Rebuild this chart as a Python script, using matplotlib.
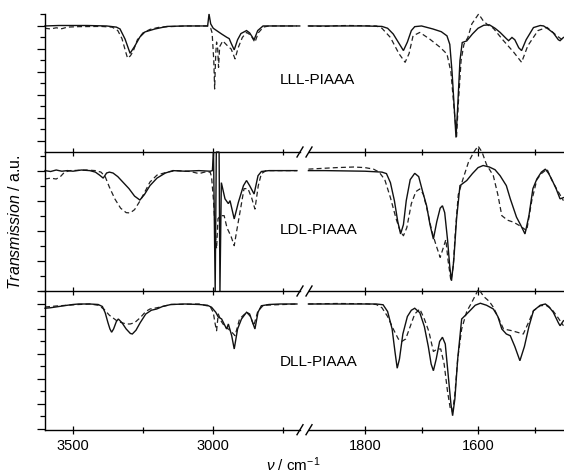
import matplotlib
matplotlib.use("Agg")
import matplotlib.pyplot as plt
from matplotlib.ticker import MultipleLocator, FixedLocator
from matplotlib.lines import Line2D

plt.rcParams["font.family"] = ["Liberation Sans", "DejaVu Sans"]
plt.rcParams["mathtext.fontset"] = "custom"
plt.rcParams["mathtext.rm"] = "Liberation Sans"
plt.rcParams["mathtext.it"] = "Liberation Sans:italic"

#### Data (wavenumber in cm-1, transmission in arbitrary tick units, baseline = 0)

labels = ["LLL-PIAAA", "LDL-PIAAA", "DLL-PIAAA"]

# LLL-PIAAA, high wavenumber part
lll_hi_solid_x = [3600, 3550, 3450, 3380, 3345, 3332, 3314, 3296, 3279, 3261, 3243, 3207, 3164, 3100, 3025, 3019,
                  3014, 3008, 2999, 2987, 2969, 2951, 2942, 2935, 2924, 2912, 2900, 2880, 2869, 2853, 2840, 2821, 2690]
lll_hi_solid_y = [0.0, 0.02, 0.02, 0.0, -0.05, -0.13, -0.57, -1.19, -0.87, -0.48, -0.26, -0.13, -0.02, 0.0, 0.0, 0.0,
                  0.52, 0.09, -0.1, -0.2, -0.35, -0.49, -0.55, -0.75, -1.04, -0.6, -0.33, -0.2, -0.3, -0.6, -0.2, 0.0, 0.0]
lll_hi_dash_x = [3600, 3580, 3560, 3540, 3520, 3480, 3400, 3360, 3340, 3325, 3310, 3305, 3295, 3285, 3270, 3250, 3225,
                 3190, 3100, 3020, 3008, 3003, 2997, 2994, 2990, 2987, 2983, 2980, 2976, 2965, 2945, 2935, 2921, 2910,
                 2895, 2880, 2865, 2850, 2838, 2820, 2800, 2700]
lll_hi_dash_y = [-0.1, -0.13, -0.08, -0.12, -0.05, -0.03, -0.02, -0.05, -0.2, -0.55, -1.2, -1.4, -1.3, -1.1, -0.6, -0.3,
                 -0.15, -0.05, 0.0, 0.0, -0.1, -0.3, -1.5, -2.74, -1.2, -0.7, -1.0, -1.8, -0.9, -0.65, -0.9, -1.0, -1.43,
                 -0.95, -0.5, -0.28, -0.4, -0.71, -0.3, -0.05, 0.0, 0.0]

# LLL-PIAAA, fingerprint part
lll_lo_solid_x = [1900, 1850, 1800, 1770, 1760, 1750, 1740, 1732, 1725, 1718, 1712, 1700, 1680, 1665, 1655, 1650, 1646,
                  1642, 1639, 1636, 1632, 1628, 1620, 1610, 1600, 1590, 1580, 1570, 1561, 1550, 1546, 1540, 1535, 1528,
                  1523, 1515, 1502, 1490, 1484, 1475, 1467, 1458, 1455, 1449]
lll_lo_solid_y = [0.0, 0.0, 0.0, -0.02, -0.1, -0.35, -0.75, -1.07, -0.7, -0.2, -0.03, 0.0, -0.13, -0.25, -0.43, -0.8, -2.0,
                  -3.6, -4.85, -3.5, -1.5, -0.72, -0.65, -0.35, -0.1, 0.03, 0.05, -0.1, -0.28, -0.55, -0.64, -0.5, -0.6,
                  -0.95, -1.07, -0.6, -0.07, 0.02, 0.0, -0.15, -0.3, -0.6, -0.64, -0.5]
lll_lo_dash_x = [1900, 1870, 1850, 1830, 1780, 1770, 1755, 1740, 1729, 1722, 1715, 1703, 1685, 1667, 1655, 1648, 1642,
                 1638, 1635, 1630, 1625, 1618, 1611, 1599, 1591, 1583, 1573, 1555, 1537, 1523, 1512, 1494, 1478, 1461, 1449]
lll_lo_dash_y = [0.0, -0.02, 0.01, 0.02, 0.0, -0.1, -0.5, -1.2, -1.58, -1.2, -0.43, -0.28, -0.58, -0.93, -1.22, -2.0, -3.7,
                 -4.8, -3.4, -1.5, -0.8, -0.5, 0.09, 0.52, 0.23, 0.05, -0.1, -0.64, -1.14, -1.58, -0.86, -0.2, -0.06,
                 -0.42, -0.64]

# LDL-PIAAA, high wavenumber part
ldl_hi_solid_x = [3600, 3580, 3560, 3540, 3520, 3500, 3470, 3440, 3420, 3405, 3392, 3380, 3370, 3357, 3340, 3320, 3300,
                  3280, 3261, 3245, 3225, 3200, 3170, 3143, 3100, 3050, 3010, 3002, 2998, 2992, 2988, 2978, 2975, 2970,
                  2957, 2945, 2939, 2924, 2909, 2891, 2880, 2869, 2853, 2839, 2827, 2800, 2700]
ldl_hi_solid_y = [0.0, -0.03, 0.02, -0.02, 0.0, -0.02, 0.02, 0.0, -0.05, -0.15, -0.25, -0.08, -0.05, -0.08, -0.2, -0.4,
                  -0.6, -0.85, -0.98, -0.8, -0.5, -0.25, -0.08, 0.0, -0.02, 0.0, -0.02, 0.0, 0.62, -4.01, 0.62, 0.62,
                  -4.01, -0.4, -0.94, -1.1, -1.0, -1.61, -1.05, -0.5, -0.33, -0.5, -0.78, -0.17, -0.03, 0.0, 0.0]
ldl_hi_dash_x = [3600, 3580, 3560, 3545, 3530, 3510, 3450, 3420, 3400, 3385, 3370, 3350, 3330, 3310, 3296, 3280, 3260,
                 3240, 3225, 3200, 3164, 3130, 3080, 3050, 3030, 3010, 3005, 2998, 2990, 2987, 2982, 2972, 2960, 2950,
                 2935, 2924, 2915, 2900, 2889, 2875, 2862, 2850, 2838, 2827, 2810, 2700]
ldl_hi_dash_y = [-0.28, -0.25, -0.28, -0.2, -0.05, 0.0, 0.02, 0.0, -0.05, -0.2, -0.55, -0.95, -1.25, -1.4, -1.41, -1.3,
                 -1.0, -0.65, -0.38, -0.15, -0.05, 0.0, -0.03, -0.1, -0.05, -0.05, -0.2, -1.0, -2.3, -2.6, -1.6, -1.5,
                 -1.5, -1.9, -2.2, -2.5, -2.0, -1.2, -0.6, -0.6, -0.9, -1.28, -0.5, -0.1, 0.0, 0.0]

# LDL-PIAAA, fingerprint part
ldl_lo_solid_x = [1900, 1870, 1800, 1770, 1762, 1755, 1748, 1742, 1737, 1732, 1727, 1720, 1712, 1705, 1698, 1691, 1685,
                  1679, 1673, 1667, 1663, 1659, 1654, 1650, 1647, 1643, 1638, 1632, 1625, 1620, 1610, 1600, 1591, 1580,
                  1570, 1561, 1550, 1543, 1532, 1525, 1517, 1510, 1503, 1496, 1488, 1481, 1475, 1470, 1462, 1455, 1449]
ldl_lo_solid_y = [0.0, 0.0, -0.02, -0.05, -0.1, -0.4, -1.0, -1.7, -2.11, -1.8, -1.0, -0.3, -0.09, -0.2, -0.7, -1.17, -1.8,
                  -2.28, -1.7, -1.25, -1.17, -1.4, -2.3, -3.2, -3.67, -3.0, -1.6, -0.5, -0.4, -0.33, -0.1, 0.1, 0.17,
                  0.12, 0.03, -0.17, -0.5, -0.94, -1.55, -1.8, -2.11, -1.5, -0.6, -0.28, -0.05, 0.05, -0.1, -0.28, -0.6,
                  -0.94, -0.9]
ldl_lo_dash_x = [1900, 1870, 1850, 1820, 1800, 1785, 1775, 1765, 1755, 1745, 1738, 1732, 1726, 1718, 1710, 1703, 1697,
                 1690, 1682, 1674, 1667, 1662, 1657, 1653, 1648, 1644, 1640, 1635, 1627, 1617, 1608, 1600, 1593, 1585,
                 1573, 1565, 1558, 1548, 1537, 1525, 1514, 1505, 1496, 1488, 1478, 1470, 1461, 1449]
ldl_lo_dash_y = [0.05, 0.08, 0.1, 0.12, 0.1, 0.05, -0.05, -0.3, -0.9, -1.6, -2.0, -2.17, -1.9, -1.1, -0.7, -0.61, -0.78,
                 -1.3, -2.0, -2.5, -2.89, -2.6, -2.3, -3.0, -3.67, -3.2, -2.0, -0.8, -0.3, 0.28, 0.6, 0.82, 0.62, 0.2,
                 -0.17, -0.8, -1.5, -1.65, -1.72, -1.85, -2.0, -1.0, -0.3, -0.1, 0.05, -0.3, -0.61, -1.0]

# DLL-PIAAA, high wavenumber part
dll_hi_solid_x = [3600, 3580, 3550, 3520, 3500, 3480, 3440, 3410, 3395, 3385, 3375, 3368, 3362, 3355, 3345, 3338, 3325,
                  3310, 3295, 3288, 3275, 3260, 3240, 3220, 3201, 3180, 3150, 3100, 3050, 3020, 3005, 2990, 2981, 2969,
                  2957, 2951, 2945, 2933, 2924, 2912, 2898, 2880, 2869, 2850, 2839, 2827, 2800, 2760, 2700]
dll_hi_solid_y = [-0.17, -0.15, -0.1, -0.05, -0.02, 0.0, 0.0, -0.02, -0.1, -0.35, -0.75, -1.0, -1.13, -1.0, -0.7, -0.6,
                  -0.75, -1.0, -1.18, -1.2, -1.05, -0.75, -0.4, -0.25, -0.2, -0.1, -0.02, 0.0, -0.02, -0.05, -0.13,
                  -0.33, -0.52, -0.6, -0.87, -1.0, -0.8, -1.27, -1.8, -1.0, -0.6, -0.33, -0.4, -1.0, -0.33, -0.07,
                  -0.02, 0.0, 0.0]
dll_hi_dash_x = [3600, 3560, 3520, 3480, 3440, 3410, 3390, 3370, 3340, 3310, 3296, 3280, 3260, 3240, 3225, 3200, 3150,
                 3050, 3010, 2999, 2992, 2987, 2981, 2970, 2957, 2945, 2935, 2921, 2905, 2880, 2866, 2854, 2840, 2820, 2700]
dll_hi_dash_y = [-0.12, -0.08, -0.05, -0.02, 0.0, -0.05, -0.2, -0.45, -0.7, -0.8, -0.8, -0.75, -0.55, -0.3, -0.2, -0.15,
                 -0.02, 0.0, -0.1, -0.33, -0.8, -1.07, -0.4, -0.7, -0.92, -1.0, -1.1, -1.27, -0.6, -0.33, -0.5, -0.87,
                 -0.3, -0.05, 0.0]

# DLL-PIAAA, fingerprint part
dll_lo_solid_x = [1900, 1850, 1800, 1780, 1768, 1760, 1752, 1747, 1743, 1739, 1733, 1725, 1718, 1712, 1703, 1695, 1688,
                  1683, 1679, 1674, 1668, 1663, 1658, 1653, 1648, 1645, 1641, 1636, 1629, 1617, 1605, 1596, 1585, 1573,
                  1565, 1558, 1550, 1543, 1535, 1526, 1518, 1510, 1502, 1490, 1481, 1475, 1467, 1458, 1455, 1449]
dll_lo_solid_y = [0.0, 0.0, 0.0, 0.0, -0.03, -0.3, -1.0, -1.9, -2.57, -2.2, -1.2, -0.5, -0.25, -0.17, -0.35, -0.9, -1.7,
                  -2.4, -2.67, -2.2, -1.5, -1.33, -1.6, -2.8, -4.0, -4.47, -3.8, -2.2, -0.6, -0.33, -0.05, 0.03, -0.05,
                  -0.2, -0.5, -1.0, -1.2, -1.27, -1.7, -2.27, -1.7, -0.9, -0.27, -0.05, 0.0, -0.1, -0.33, -0.75, -0.87,
                  -0.67]
dll_lo_dash_x = [1900, 1850, 1800, 1780, 1770, 1760, 1750, 1741, 1735, 1728, 1720, 1712, 1703, 1695, 1687, 1679, 1672,
                 1666, 1660, 1654, 1649, 1645, 1641, 1636, 1629, 1620, 1611, 1599, 1590, 1580, 1573, 1565, 1555, 1540,
                 1520, 1510, 1502, 1490, 1480, 1470, 1460, 1449]
dll_lo_dash_y = [0.0, 0.02, 0.01, -0.02, -0.15, -0.5, -1.0, -1.4, -1.5, -1.4, -0.9, -0.4, -0.2, -0.6, -1.1, -1.9, -1.8,
                 -1.8, -2.4, -3.5, -4.2, -4.3, -3.6, -2.2, -1.0, -0.3, 0.07, 0.6, 0.3, 0.1, -0.13, -0.5, -1.0, -1.07,
                 -1.2, -0.7, -0.27, -0.07, -0.05, -0.2, -0.5, -0.87]

#### Layout (pixels of a 564 x 477 figure)

W, H = 564, 477
panel_px = [(15, 153), (153, 292), (292, 430.7)]       # top / bottom pixel rows of each panel
label_px = [80, 230, 362]                                 # vertical centre of the sample names
ylims = [(-5.48, 0.52), (-4.01, 0.62), (-5.03, 0.52)]
left_px = (45, 300)
right_px = (309, 564)
hi_lim = (3600, 2689)
lo_lim = (1899, 1448)

curves = [
    (lll_hi_solid_x, lll_hi_solid_y, lll_hi_dash_x, lll_hi_dash_y,
     lll_lo_solid_x, lll_lo_solid_y, lll_lo_dash_x, lll_lo_dash_y),
    (ldl_hi_solid_x, ldl_hi_solid_y, ldl_hi_dash_x, ldl_hi_dash_y,
     ldl_lo_solid_x, ldl_lo_solid_y, ldl_lo_dash_x, ldl_lo_dash_y),
    (dll_hi_solid_x, dll_hi_solid_y, dll_hi_dash_x, dll_hi_dash_y,
     dll_lo_solid_x, dll_lo_solid_y, dll_lo_dash_x, dll_lo_dash_y),
]

fig = plt.figure(figsize=(W / 100, H / 100), dpi=100)

solid_kw = dict(color="#111111", lw=1.0, clip_on=False, solid_joinstyle="miter")
dash_kw = dict(color="#222222", lw=0.9, dashes=(4, 2.5), clip_on=False)

for i, (top, bot) in enumerate(panel_px):
    y0 = 1 - bot / H
    h = (bot - top) / H
    axl = fig.add_axes([left_px[0] / W, y0, (left_px[1] - left_px[0]) / W, h])
    axr = fig.add_axes([right_px[0] / W, y0, (right_px[1] - right_px[0]) / W, h])
    sx, sy, dx, dy, lsx, lsy, ldx, ldy = curves[i]

    axl.plot(dx, dy, **dash_kw)
    axl.plot(sx, sy, **solid_kw)
    axr.plot(ldx, ldy, **dash_kw)
    axr.plot(lsx, lsy, **solid_kw)

    for ax, xl in ((axl, hi_lim), (axr, lo_lim)):
        ax.set_xlim(xl)
        ax.set_ylim(ylims[i])
        ax.patch.set_visible(False)
        ax.spines["top"].set_visible(False)
        ax.spines["right"].set_visible(False)
        for s in ax.spines.values():
            s.set_linewidth(1.0)
        ax.tick_params(axis="x", which="both", direction="inout", length=6, width=0.9,
                       labelsize=10.5, pad=3, labelbottom=(i == 2))
        ax.tick_params(axis="x", which="minor", length=4)

    axl.xaxis.set_major_locator(FixedLocator([3500, 3000]))
    axl.xaxis.set_minor_locator(FixedLocator([3250, 2750]))
    axr.xaxis.set_major_locator(FixedLocator([1800, 1600]))
    axr.xaxis.set_minor_locator(FixedLocator([1700, 1500]))

    axl.yaxis.set_major_locator(MultipleLocator(1))
    axl.yaxis.set_minor_locator(MultipleLocator(0.5))
    axl.tick_params(axis="y", which="major", direction="out", length=6, width=0.9, labelleft=False)
    axl.tick_params(axis="y", which="minor", direction="out", length=3.5, width=0.9)
    axr.spines["left"].set_visible(False)
    axr.tick_params(axis="y", which="both", left=False, labelleft=False)

    fig.text(280 / W, 1 - label_px[i] / H, labels[i], fontsize=11, va="center", ha="left")

    # break marks on the x axis line
    for x_a in (297, 306):
        fig.add_artist(Line2D([x_a / W, (x_a + 6) / W], [1 - (bot + 5) / H, 1 - (bot - 5) / H],
                              transform=fig.transFigure, color="black", lw=1.0))

fig.text(15 / W, 1 - 222 / H, r"$\mathit{Transmission}$ / a.u.", rotation=90,
         fontsize=11.5, ha="center", va="center")
fig.text(293 / W, 3 / H, r"$\mathit{\nu}$ / cm$^{-1}$", fontsize=11, ha="center", va="bottom")

fig.savefig("out.png", dpi=100)
